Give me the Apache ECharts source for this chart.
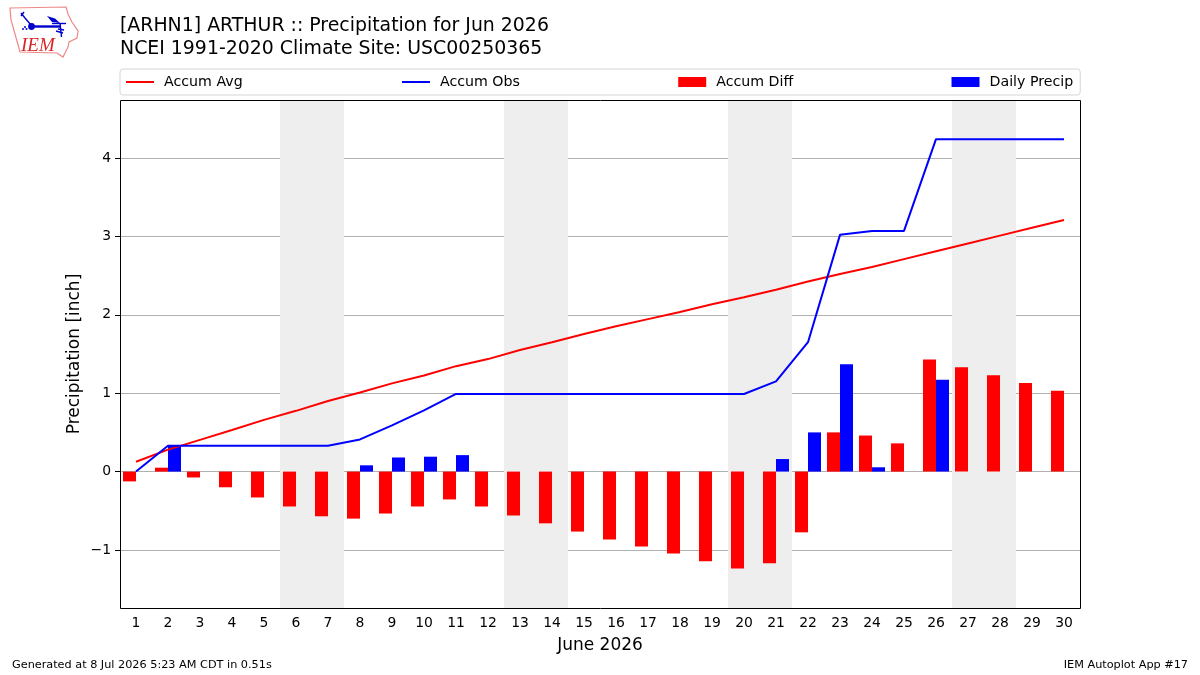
<!DOCTYPE html>
<html>
<head>
<meta charset="utf-8">
<style>html,body{margin:0;padding:0;background:#fff}#chart{width:1200px;height:675px}</style>
<script src="https://cdn.jsdelivr.net/npm/echarts@6/dist/echarts.min.js"></script>
</head>
<body>
<div id="chart"></div>
<script>
// June 2026 precipitation for ARTHUR (ARHN1), inches
const days = ['1','2','3','4','5','6','7','8','9','10','11','12','13','14','15','16','17','18','19','20','21','22','23','24','25','26','27','28','29','30'];
const accumAvg = [0.125,0.28,0.405,0.53,0.66,0.775,0.90,1.01,1.125,1.225,1.345,1.435,1.55,1.65,1.755,1.855,1.945,2.035,2.135,2.225,2.32,2.425,2.52,2.61,2.71,2.81,2.91,3.01,3.11,3.21];
const accumObs = [0,0.33,0.33,0.33,0.33,0.33,0.33,0.41,0.59,0.78,0.99,0.99,0.99,0.99,0.99,0.99,0.99,0.99,0.99,0.99,1.15,1.65,3.02,3.07,3.07,4.24,4.24,4.24,4.24,4.24];
const accumDiff = [-0.125,0.05,-0.075,-0.20,-0.33,-0.445,-0.57,-0.60,-0.535,-0.445,-0.355,-0.445,-0.56,-0.66,-0.765,-0.865,-0.955,-1.045,-1.145,-1.235,-1.17,-0.775,0.50,0.46,0.36,1.43,1.33,1.23,1.13,1.03];
const dailyPrecip = [0,0.33,0,0,0,0,0,0.08,0.18,0.19,0.21,0,0,0,0,0,0,0,0,0,0.16,0.50,1.37,0.055,0,1.17,0,0,0,0];
const yTicks = [-1,0,1,2,3,4];
const weekendSpans = [[5.5,7.5],[12.5,14.5],[19.5,21.5],[26.5,28.5]];

const FONT = '"DejaVu Sans", sans-serif';
const chart = echarts.init(document.getElementById('chart'), null, {renderer: 'canvas'});

const BLUE_INK = '#0000cc';
const stroke1 = {stroke: BLUE_INK, lineWidth: 1.4, fill: 'none'};

// Iowa outline with the station-plot glyph and the IEM wordmark
const logo = {
  type: 'group', silent: true,
  children: [
    {type: 'polygon', shape: {points: [[10,8],[66,7],[68,14],[72,22],[78,31],[77,38],[69,42],[68,47],[65,53],[63,57],[57,53],[20,52],[15,34],[11,20]]},
     style: {fill: '#fff', stroke: '#e88', lineWidth: 1.2}},
    {type: 'line', shape: {x1: 32, y1: 26.5, x2: 60, y2: 26.5}, style: {stroke: BLUE_INK, lineWidth: 2.4}},
    {type: 'circle', shape: {cx: 31.5, cy: 26.5, r: 3.4}, style: {fill: BLUE_INK}},
    {type: 'polygon', shape: {points: [[47,16],[55,18.5],[60,23],[52,22]]}, style: {fill: BLUE_INK}},
    {type: 'polyline', shape: {points: [[21,13],[25,18],[31,25]]}, style: stroke1},
    {type: 'polyline', shape: {points: [[21,16],[24,12]]}, style: stroke1},
    {type: 'polyline', shape: {points: [[52,23.5],[66,23.5]]}, style: stroke1},
    {type: 'polyline', shape: {points: [[60,23],[61.5,37]]}, style: stroke1},
    {type: 'polyline', shape: {points: [[56,31],[63,33]]}, style: stroke1},
    {type: 'polyline', shape: {points: [[58,29],[64,30]]}, style: stroke1},
    {type: 'circle', shape: {cx: 23, cy: 29, r: 1}, style: {fill: BLUE_INK}},
    {type: 'circle', shape: {cx: 25, cy: 27, r: 1}, style: {fill: BLUE_INK}},
    {type: 'circle', shape: {cx: 26.5, cy: 29, r: 1}, style: {fill: BLUE_INK}},
    {type: 'text', style: {x: 21, y: 36, text: 'IEM', fill: '#d62728', font: 'italic 19px "Liberation Serif", serif'}}
  ]
};

const footers = [
  {type: 'text', left: 12, top: 660, style: {text: 'Generated at 8 Jul 2026 5:23 AM CDT in 0.51s', fill: '#000', font: '11.25px ' + FONT}},
  {type: 'text', right: 12, top: 660, style: {text: 'IEM Autoplot App #17', fill: '#000', font: '11.25px ' + FONT}}
];

// Crisp plot frame, aligned to the pixel grid and kept above the bars
const plotFrame = {
  type: 'rect', silent: true, z: 100,
  shape: {x: 120.5, y: 100.5, width: 960, height: 508},
  style: {fill: 'none', stroke: '#000', lineWidth: 1}
};

// Line keys carry an invisible marker so only the stroke shows in the legend
const hiddenMarker = {color: 'transparent', borderColor: 'transparent', borderWidth: 0};

chart.setOption({
  animation: false,
  backgroundColor: '#fff',
  title: {
    left: 120, top: 15, padding: 0,
    text: '[ARHN1] ARTHUR :: Precipitation for Jun 2026\nNCEI 1991-2020 Climate Site: USC00250365',
    textStyle: {fontFamily: FONT, fontSize: 18.9, fontWeight: 'normal', color: '#000', lineHeight: 23}
  },
  legend: {
    left: 120, top: 69, padding: [6, 7, 6, 5], itemGap: 158.3, itemWidth: 28, itemHeight: 10,
    backgroundColor: '#fff', borderColor: '#d5d5d5', borderWidth: 1, borderRadius: 3,
    textStyle: {fontFamily: FONT, fontSize: 14.2, color: '#000', padding: [0, 0, 0, 5]},
    data: [
      {name: 'Accum Avg', itemStyle: hiddenMarker},
      {name: 'Accum Obs', itemStyle: hiddenMarker},
      {name: 'Accum Diff', icon: 'rect'},
      {name: 'Daily Precip', icon: 'rect'}
    ]
  },
  grid: {left: 120, right: 120, top: 100, bottom: 67, show: false},
  xAxis: [
    {type: 'category', data: days, boundaryGap: true, name: 'June 2026', nameLocation: 'middle', nameGap: 29,
     nameTextStyle: {fontFamily: FONT, fontSize: 17, color: '#000'},
     axisLine: {show: false}, axisTick: {alignWithLabel: true, length: 5, lineStyle: {color: '#000'}},
     axisLabel: {interval: 0, margin: 8, fontFamily: FONT, fontSize: 13.9, color: '#000'}, splitLine: {show: false}},
    {type: 'value', show: false, min: 0.5, max: 30.5}
  ],
  yAxis: {
    type: 'value', min: -1.74, max: 4.74, name: 'Precipitation [inch]', nameLocation: 'middle', nameGap: 37, nameMoveOverlap: false,
    nameTextStyle: {fontFamily: FONT, fontSize: 17, color: '#000'},
    axisLine: {show: false},
    axisTick: {length: 5, lineStyle: {color: '#000'}, customValues: yTicks},
    axisLabel: {customValues: yTicks, margin: 9, fontFamily: FONT, fontSize: 13.9, color: '#000',
      formatter: v => String(v).replace('-', '\u2212')},
    splitLine: {show: true, lineStyle: {color: '#b0b0b0', width: 1}}
  },
  series: [
    {type: 'line', name: 'weekends', xAxisIndex: 1, data: [], silent: true, z: 0,
     markArea: {silent: true, itemStyle: {color: '#eeeeee'}, z: 0,
       data: weekendSpans.map(s => [{xAxis: s[0]}, {xAxis: s[1]}])}},
    {type: 'bar', name: 'Accum Diff', data: accumDiff, barWidth: 13, barGap: 0, itemStyle: {color: '#ff0000'}, z: 3},
    {type: 'bar', name: 'Daily Precip', data: dailyPrecip, barWidth: 13, barGap: 0, itemStyle: {color: '#0000ff'}, z: 3},
    {type: 'line', name: 'Accum Avg', data: accumAvg, symbol: 'none', lineStyle: {color: '#ff0000', width: 2}, itemStyle: {color: '#ff0000'}, z: 4},
    {type: 'line', name: 'Accum Obs', data: accumObs, symbol: 'none', lineStyle: {color: '#0000ff', width: 2}, itemStyle: {color: '#0000ff'}, z: 5}
  ],
  graphic: [logo, plotFrame].concat(footers)
});
</script>
</body>
</html>
